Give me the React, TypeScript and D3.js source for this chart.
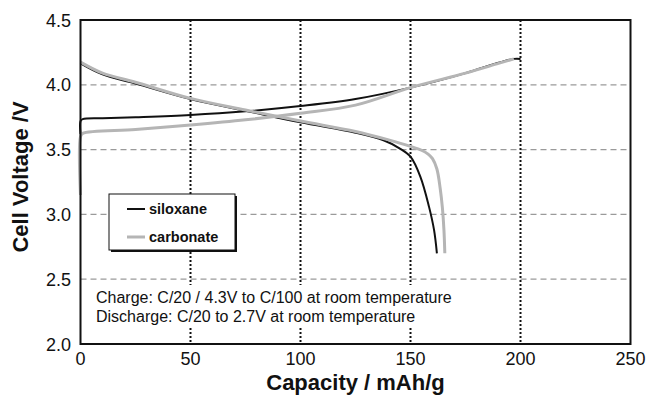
import React from "react";
import * as d3 from "d3";

// Charge / discharge profiles (capacity in mAh/g, voltage in V)
const siloxaneChargeCap = [0, 0, 1, 10, 25, 50, 75, 100, 125, 150, 175, 190, 197, 200];
const siloxaneChargeV = [3.62, 3.72, 3.735, 3.742, 3.75, 3.767, 3.795, 3.836, 3.89, 3.978, 4.09, 4.17, 4.2, 4.2];

const carbonateChargeCap = [0, 0, 1, 25, 50, 75, 100, 125, 150, 175, 190, 197];
const carbonateChargeV = [3.15, 3.6, 3.625, 3.655, 3.69, 3.73, 3.78, 3.843, 3.978, 4.09, 4.165, 4.2];

const siloxaneDischargeCap = [0, 10, 25, 50, 75, 100, 125, 138, 145, 150, 154.5, 158.4, 160.7, 162];
const siloxaneDischargeV = [4.165, 4.08, 4.01, 3.89, 3.8, 3.71, 3.63, 3.57, 3.51, 3.445, 3.29, 3.06, 2.88, 2.7];

const carbonateDischargeCap = [0, 10, 25, 50, 75, 100, 125, 140, 150, 155, 158, 160, 162, 163.5, 164.5, 165.2, 165.6];
const carbonateDischargeV = [4.175, 4.09, 4.02, 3.895, 3.805, 3.72, 3.64, 3.575, 3.525, 3.495, 3.465, 3.43, 3.35, 3.2, 3.05, 2.88, 2.7];

const xTicks = [0, 50, 100, 150, 200, 250];
const yTicks = [2.0, 2.5, 3.0, 3.5, 4.0, 4.5];
const xGridValues = [50, 100, 150, 200];
const yGridValues = [2.5, 3.0, 3.5, 4.0];

const seriesNames = ["siloxane", "carbonate"];
const seriesColors = ["#111111", "#b5b5b5"];
const seriesWidths = [2, 3];

const noteLines = [
  "Charge: C/20 / 4.3V to C/100 at room temperature",
  "Discharge: C/20 to 2.7V at room temperature",
];

const W = 648;
const H = 397;
const left = 80.5;
const right = 630.5;
const top = 20;
const bottom = 344;

const x = d3.scaleLinear().domain([0, 250]).range([left, right]);
const y = d3.scaleLinear().domain([2, 4.5]).range([bottom, top]);

const line = d3
  .line<[number, number]>()
  .x((d) => x(d[0]))
  .y((d) => y(d[1]))
  .curve(d3.curveCatmullRom.alpha(0.5));

const zip = (a: number[], b: number[]): [number, number][] => a.map((v, i) => [v, b[i]]);

const FONT = "'Liberation Sans', Arial, Helvetica, sans-serif";

export default function App() {
  const curves = [
    { d: line(zip(siloxaneChargeCap, siloxaneChargeV)), s: 0 },
    { d: line(zip(siloxaneDischargeCap, siloxaneDischargeV)), s: 0 },
    { d: line(zip(carbonateChargeCap, carbonateChargeV)), s: 1 },
    { d: line(zip(carbonateDischargeCap, carbonateDischargeV)), s: 1 },
  ];

  const legendX = 109;
  const legendY = 194;
  const legendW = 126;
  const legendH = 56;

  return (
    <svg
      width={W}
      height={H}
      viewBox={`0 0 ${W} ${H}`}
      style={{ position: "absolute", left: 0, top: 0, background: "#fff", fontFamily: FONT }}
    >
      {/* horizontal dashed grid */}
      {yGridValues.map((v) => (
        <line
          key={`hy${v}`}
          x1={left}
          x2={right}
          y1={y(v)}
          y2={y(v)}
          stroke="#9a9a9a"
          strokeWidth={1.2}
          strokeDasharray="6,4"
        />
      ))}
      {/* vertical dotted grid */}
      {xGridValues.map((v) => (
        <line
          key={`vx${v}`}
          x1={x(v)}
          x2={x(v)}
          y1={top}
          y2={bottom}
          stroke="#111"
          strokeWidth={2}
          strokeDasharray="2,2"
        />
      ))}

      {/* curves */}
      {curves.map((c, i) => (
        <path
          key={i}
          d={c.d || ""}
          fill="none"
          stroke={seriesColors[c.s]}
          strokeWidth={seriesWidths[c.s]}
          strokeLinejoin="round"
          strokeLinecap="butt"
        />
      ))}

      {/* plot frame */}
      <rect x={left} y={top} width={right - left} height={bottom - top} fill="none" stroke="#111" strokeWidth={2} />

      {/* legend */}
      <rect x={legendX + 2} y={legendY + 2} width={legendW} height={legendH} fill="#111" />
      <rect x={legendX} y={legendY} width={legendW} height={legendH} fill="#fff" stroke="#111" strokeWidth={1} />
      {seriesNames.map((name, i) => {
        const ly = legendY + 15 + i * 28;
        return (
          <g key={name}>
            <line x1={legendX + 18} x2={legendX + 36} y1={ly} y2={ly} stroke={seriesColors[i]} strokeWidth={seriesWidths[i]} />
            <text x={legendX + 40} y={ly + 5} fontSize={14.5} fontWeight="bold" fill="#111">
              {name}
            </text>
          </g>
        );
      })}

      {/* test-condition note */}
      <rect x={93} y={285} width={362} height={43} fill="#fff" />
      {noteLines.map((t, i) => (
        <text key={i} x={96} y={303 + i * 18.5} fontSize={16} fill="#111">
          {t}
        </text>
      ))}

      {/* tick labels */}
      {xTicks.map((v) => (
        <text key={`xt${v}`} x={x(v)} y={365} fontSize={18} textAnchor="middle" fill="#111">
          {v}
        </text>
      ))}
      {yTicks.map((v) => (
        <text key={`yt${v}`} x={71} y={y(v) + 6.5} fontSize={18} textAnchor="end" fill="#111">
          {v.toFixed(1)}
        </text>
      ))}

      {/* axis titles */}
      <text x={(left + right) / 2} y={390} fontSize={22} fontWeight="bold" textAnchor="middle" fill="#111">
        Capacity / mAh/g
      </text>
      <text
        transform={`translate(28, ${177}) rotate(-90)`}
        fontSize={22}
        fontWeight="bold"
        textAnchor="middle"
        fill="#111"
      >
        Cell Voltage /V
      </text>
    </svg>
  );
}
